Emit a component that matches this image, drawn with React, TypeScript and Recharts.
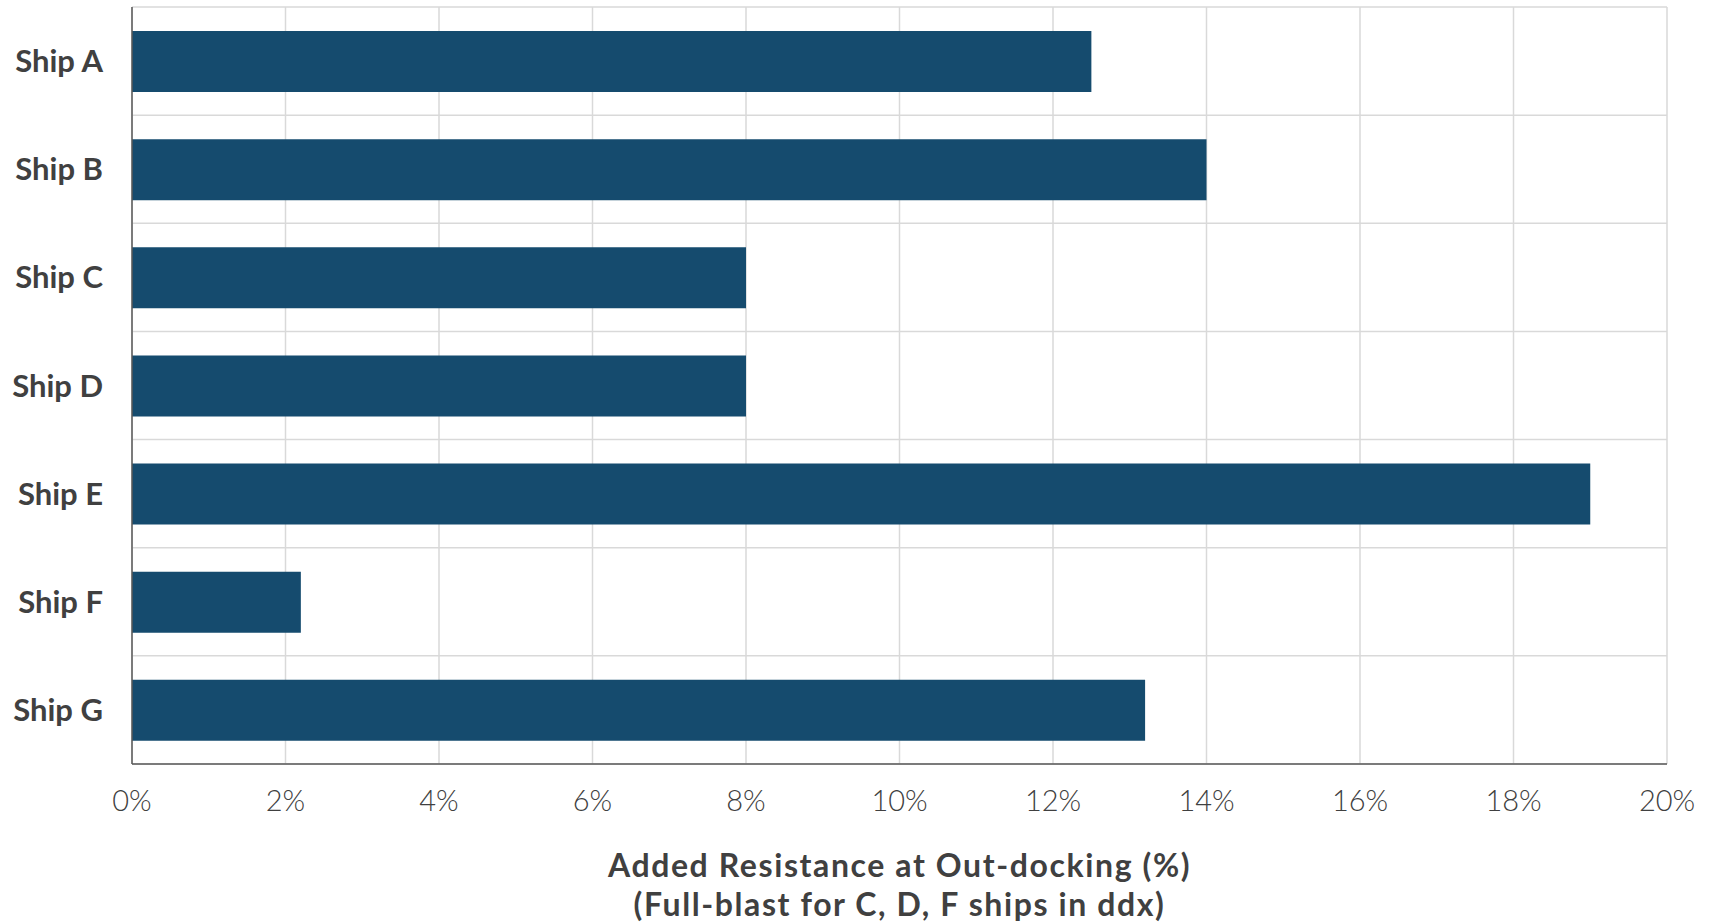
import React from "react";
import {
  BarChart,
  Bar,
  XAxis,
  YAxis,
  CartesianGrid,
  Label,
} from "recharts";

const ships = ["Ship A", "Ship B", "Ship C", "Ship D", "Ship E", "Ship F", "Ship G"];
const addedResistance = [12.5, 14, 8, 8, 19, 2.2, 13.2];
const xTicks = [0, 2, 4, 6, 8, 10, 12, 14, 16, 18, 20];
const titleLines = [
  "Added Resistance at Out-docking (%)",
  "(Full-blast for C, D, F ships in ddx)",
];

const data = ships.map((name, i) => ({ name, value: addedResistance[i] }));

const FONT = "Lato, 'Open Sans', sans-serif";
const TEXT = "#404040";

// grid lines sit on the category boundaries, not on the band centres
const bandEdges = ({ offset }: any) =>
  Array.from(
    { length: ships.length + 1 },
    (_, i) => offset.top + (i * offset.height) / ships.length
  );

const AxisTitle = (props: any) => {
  const { viewBox } = props;
  const cx = viewBox.x + viewBox.width / 2;
  return (
    <text
      x={cx}
      y={viewBox.y}
      textAnchor="middle"
      fill={TEXT}
      fontFamily={FONT}
      fontWeight={700}
      fontSize={32}
      letterSpacing={1.6}
    >
      <tspan x={cx} y={viewBox.y + 113}>
        {titleLines[0]}
      </tspan>
      <tspan x={cx} y={viewBox.y + 152}>
        {titleLines[1]}
      </tspan>
    </text>
  );
};

const App: React.FC = () => {
  return (
    <div style={{ position: "absolute", left: 0, top: 0, background: "#fff" }}>
      <BarChart
        width={1712}
        height={924}
        data={data}
        layout="vertical"
        margin={{ top: 7, right: 45, left: 0, bottom: 0 }}
      >
        <CartesianGrid
          stroke="#d9d9d9"
          strokeWidth={1.5}
          horizontalCoordinatesGenerator={bandEdges}
        />
        <XAxis
          type="number"
          domain={[0, 20]}
          ticks={xTicks}
          tickFormatter={(v) => `${v}%`}
          height={160}
          tickLine={false}
          tickSize={0}
          tickMargin={26}
          axisLine={{ stroke: "#595959", strokeWidth: 1.5 }}
          tick={{ fill: TEXT, fontSize: 29, fontWeight: 300, fontFamily: FONT }}
          interval={0}
        >
          <Label content={<AxisTitle />} position="insideBottom" />
        </XAxis>
        <YAxis
          type="category"
          dataKey="name"
          width={132}
          tickLine={false}
          tickSize={0}
          tickMargin={29}
          axisLine={{ stroke: "#595959", strokeWidth: 1.5 }}
          tick={{ fill: TEXT, fontSize: 31, fontWeight: 700, fontFamily: FONT }}
          interval={0}
        />
        <Bar dataKey="value" fill="#154b6e" barSize={61} isAnimationActive={false} />
      </BarChart>
    </div>
  );
};

export default App;
